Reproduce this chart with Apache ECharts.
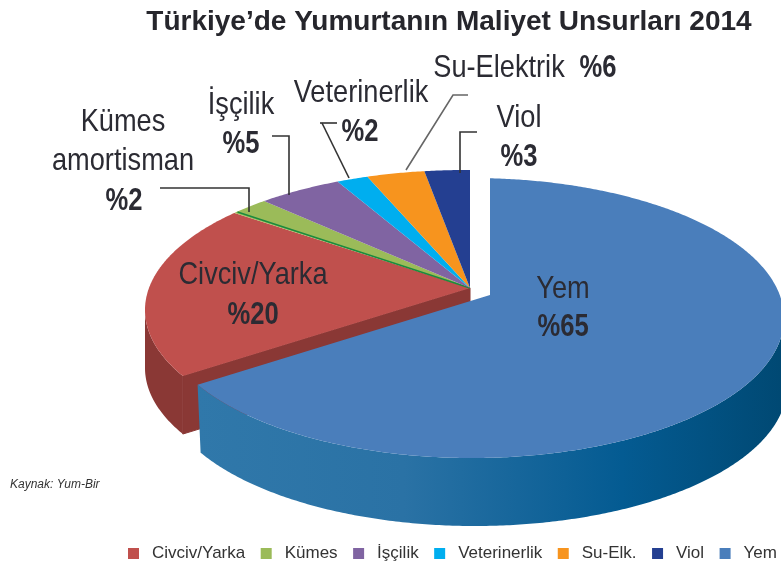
<!DOCTYPE html>
<html>
<head>
  <meta charset="UTF-8">
  <style>
    html, body { margin: 0; background: #fff; }
    #main { width: 781px; height: 564px; }
  </style>
</head>
<body>
  <div id="main"></div>
  <script src="https://cdn.jsdelivr.net/npm/echarts@6/dist/echarts.min.js"></script>
  <script>
    var categories = ['Civciv/Yarka', 'Kümes', 'İşçilik', 'Veterinerlik', 'Su-Elk.', 'Viol', 'Yem']
    // printed percentages (they add up to 103)
    var printedValues = [20, 2, 5, 2, 6, 3, 65]
    // slice sizes as drawn in the picture, they do not follow the printed numbers
    var drawnShares = [20.3, 2.2, 4.8, 1.8, 3.3, 2.6, 65]
    var topColors = ['#c0504d', '#9bbb59', '#8064a2', '#00aeef', '#f7941e', '#243f91', '#4a7ebb']

    var FONT = '"Liberation Sans", sans-serif'
    var slope = 2.37

    // the slices share one ellipse, Yem is pulled out of it
    var groupPie = { ax: 470, ay: 288, cx: 465, cy: 310, rx: 320, ry: 140, depth: 58, shift: 0 }
    var yemPie = { ax: 490, ay: 295, cx: 472, cy: 318, rx: 312, ry: 140, depth: 68, shift: 3 }

    function rimPoint(deg, g) {
      var t = deg * Math.PI / 180
      var dx = Math.sin(t) * slope, dy = -Math.cos(t)
      var px = g.ax - g.cx, py = g.ay - g.cy
      var a = dx * dx / (g.rx * g.rx) + dy * dy / (g.ry * g.ry)
      var b = 2 * (px * dx / (g.rx * g.rx) + py * dy / (g.ry * g.ry))
      var c = px * px / (g.rx * g.rx) + py * py / (g.ry * g.ry) - 1
      var k = (-b + Math.sqrt(b * b - 4 * a * c)) / (2 * a)
      return [g.ax + k * dx, g.ay + k * dy]
    }

    function arc(from, to, g) {
      var pts = []
      for (var d = from; d < to; d += 0.5) pts.push(rimPoint(d, g))
      pts.push(rimPoint(to, g))
      return pts
    }

    var total = drawnShares.reduce(function (a, b) { return a + b }, 0)
    var yemIndex = categories.indexOf('Yem')
    var yemEnd = drawnShares[yemIndex] / total * 360
    var angles = []
    var start = yemEnd
    categories.forEach(function (c, i) {
      if (i === yemIndex) {
        angles.push([0, yemEnd])
      } else {
        var end = start + drawnShares[i] / total * 360
        angles.push([start, end])
        start = end
      }
    })

    function wall(from, to, g, fill) {
      var rim = arc(from, to, g).filter(function (p) { return p[1] >= g.cy })
      var low = rim.map(function (p) { return [p[0] + g.shift, p[1] + g.depth] }).reverse()
      return { type: 'polygon', shape: { points: rim.concat(low) }, style: { fill: fill } }
    }

    function renderSlice(i) {
      var g = i === yemIndex ? yemPie : groupPie
      var from = angles[i][0], to = angles[i][1]
      var kids = []
      if (i === 0) {
        var corner = rimPoint(from, g)
        kids.push({ type: 'polygon', style: { fill: '#8a3835', stroke: '#8a3835', lineWidth: 1 }, shape: { points: [
          [g.ax, g.ay], corner, [corner[0] + g.shift, corner[1] + g.depth], [g.ax + g.shift, g.ay + g.depth]
        ] } })
        kids.push(wall(from, to, g, '#8a3835'))
      }
      if (i === yemIndex) {
        kids.push(wall(from, to, g, new echarts.graphic.LinearGradient(0, 0, 1, 0, [
          { offset: 0, color: '#3078aa' },
          { offset: 0.35, color: '#2a72a5' },
          { offset: 0.72, color: '#045b92' },
          { offset: 1, color: '#004872' }
        ])))
      }
      kids.push({ type: 'polygon', shape: { points: [[g.ax, g.ay]].concat(arc(from, to, g)) },
        style: { fill: topColors[i] } })
      // thin dark green edge under Kümes
      if (categories[i] === 'Kümes') {
        var e = rimPoint(from, g)
        kids.push({ type: 'line', shape: { x1: g.ax, y1: g.ay, x2: e[0] + 3, y2: e[1] - 1 },
          style: { stroke: '#1b8a3e', lineWidth: 1.6 } })
      }
      return { type: 'group', children: kids }
    }

    var series = categories.map(function (name, i) {
      return {
        name: name,
        type: 'custom',
        coordinateSystem: 'none',
        itemStyle: { color: topColors[i] },
        data: [printedValues[i]],
        renderItem: function () { return renderSlice(i) },
        silent: true
      }
    })

    // no condensed font here, so the labels are squeezed sideways
    function label(text, x, y, bold) {
      return { type: 'text', x: x, y: y, z: 10, silent: true, scaleX: bold ? 0.8 : 0.85, style: {
        text: text, align: 'center', verticalAlign: 'middle', fill: '#2b2b33',
        font: (bold ? 'bold ' : '') + '32px ' + FONT
      } }
    }

    function pct(name) { return '%' + printedValues[categories.indexOf(name)] }

    function leader(points, color) {
      return { type: 'polyline', z: 9, silent: true, shape: { points: points },
        style: { stroke: color || '#333', lineWidth: 1.6, fill: null } }
    }

    var myChart = echarts.init(document.getElementById('main'))
    myChart.setOption({
      animation: false,
      backgroundColor: '#fff',
      legend: {
        left: 123,
        top: 540,
        width: 900,
        icon: 'rect',
        itemWidth: 11,
        itemHeight: 11,
        itemGap: 15.5,
        selectedMode: false,
        textStyle: { fontFamily: FONT, fontSize: 17, color: '#333', padding: [0, 0, 0, 8] },
        data: categories
      },
      series: series,
      graphic: [
        { type: 'text', x: 449, y: 22, z: 10, silent: true, style: {
          text: 'Türkiye’de Yumurtanın Maliyet Unsurları 2014', align: 'center', verticalAlign: 'middle',
          fill: '#26262c', font: 'bold 28px ' + FONT } },

        leader([[160, 188], [249, 188], [249, 212]]),
        leader([[272, 136], [289, 136], [289, 195]]),
        leader([[320, 123], [337, 123]]),
        leader([[322, 123], [349, 178]]),
        leader([[468, 95], [453, 95], [406, 170]], '#666'),
        leader([[477, 132], [460, 132], [460, 173]]),

        label('Kümes', 123, 122),
        label('amortisman', 123, 161),
        label(pct('Kümes'), 124, 201, true),
        label('İşçilik', 241, 105),
        label(pct('İşçilik'), 241, 144, true),
        label('Veterinerlik', 361, 93),
        label(pct('Veterinerlik'), 360, 132, true),
        label('Su-Elektrik', 499, 68),
        label(pct('Su-Elk.'), 598, 68, true),
        label('Viol', 519, 118),
        label(pct('Viol'), 519, 157, true),
        label('Civciv/Yarka', 253, 275),
        label(pct('Civciv/Yarka'), 253, 315, true),
        label('Yem', 563, 289),
        label(pct('Yem'), 563, 327, true),

        { type: 'text', x: 10, y: 485, z: 10, silent: true, style: {
          text: 'Kaynak: Yum-Bir', verticalAlign: 'middle', fill: '#333',
          font: 'italic 12px ' + FONT } }
      ]
    })
  </script>
</body>
</html>
